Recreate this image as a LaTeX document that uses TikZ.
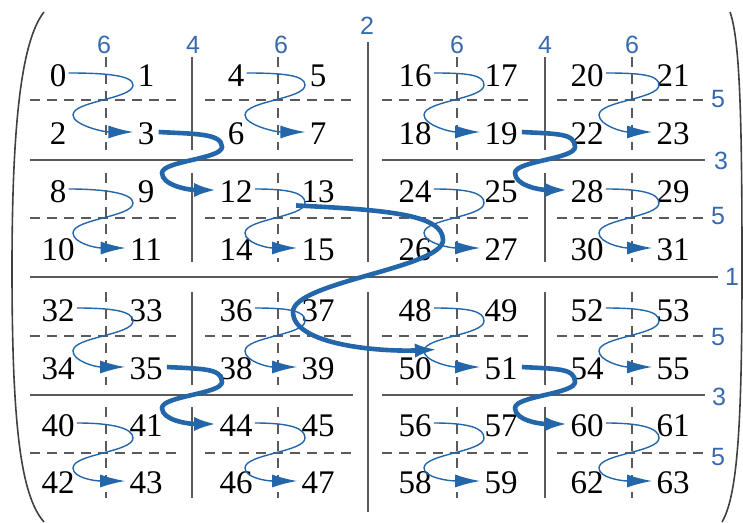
\documentclass[tikz,border=0pt]{standalone}
\usepackage{fontspec}
\setmainfont{Liberation Serif}
\newfontfamily\labfont{Liberation Sans}
\usetikzlibrary{arrows.meta,calc}
\definecolor{curveblue}{RGB}{35,102,170}
\definecolor{labblue}{RGB}{55,105,175}
\definecolor{gridgray}{RGB}{90,90,90}
\begin{document}
\begin{tikzpicture}[x=0.5pt,y=-0.5pt,
  num/.style={font=\fontsize{16.5}{19}\selectfont, inner sep=1pt},
  lab/.style={font=\labfont\fontsize{12.5}{14}\selectfont, text=labblue, inner sep=0pt},
  gridline/.style={draw=gridgray, line width=0.9pt},
  bigline/.style={draw=gridgray, line width=1.4pt},
  dashline/.style={draw=gridgray, line width=0.9pt, dash pattern=on 5pt off 3.5pt},
  thincurve/.style={draw=curveblue, line width=0.7pt, -{Latex[length=12.5pt,width=6.5pt]}},
  thickcurve/.style={draw=curveblue, line width=2.3pt, -{Latex[length=11.5pt,width=7pt]}},
  bracket/.style={draw=black!75, line width=0.8pt}]
\useasboundingbox (0,0) rectangle (743,523);

% brackets
\draw[bracket] (44,12) .. controls (22,40) and (12,120) .. (12,268) .. controls (12,420) and (20,495) .. (44,522);
\draw[bracket] (730,12) .. controls (740,40) and (742,120) .. (742,268) .. controls (742,420) and (738,495) .. (722,522);

% level 1 and 2
\draw[bigline] (30,277) -- (718,277);
\draw[bigline] (368,42) -- (368,262);
\draw[bigline] (368,292) -- (368,512);
% level 3
\foreach \y in {160,395}{
  \draw[gridline] (30,\y) -- (353,\y);
  \draw[gridline] (382,\y) -- (705,\y);
}
% level 4
\foreach \x in {192,545}{
  \foreach \ya/\yb in {57/150,173/262,292/385,407/498}{
    \draw[gridline] (\x,\ya) -- (\x,\yb);
  }
}
% level 5
\foreach \y in {100,218,336,453}{
  \foreach \xa/\xb in {30/178,205/353,382/530,557/707}{
    \draw[dashline] (\xa,\y) -- (\xb,\y);
  }
}
% level 6
\foreach \x in {106,278,457,632}{
  \foreach \ya/\yb in {57/150,173/262,292/385,407/498}{
    \draw[dashline] (\x,\ya) -- (\x,\yb);
  }
}

% labels
\node[lab] (t1) at (104,45) {6};
\node[lab] (t2) at (193,45) {4};
\node[lab] (t3) at (281,45) {6};
\node[lab] (t4) at (367,26) {2};
\node[lab] (t5) at (457,45) {6};
\node[lab] (t6) at (545,45) {4};
\node[lab] (t7) at (632,45) {6};
\node[lab] (r1) at (718,99) {5};
\node[lab] (r2) at (721,161) {3};
\node[lab] (r3) at (718,216) {5};
\node[lab] (r4) at (732,277) {1};
\node[lab] (r5) at (718,337) {5};
\node[lab] (r6) at (719,397) {3};
\node[lab] (r7) at (718,457) {5};

% numbers
\foreach \r/\y in {0/76,1/134,2/192,3/250,4/311,5/369,6/426,7/483}{
  \foreach \c/\x in {0/58,1/146,2/236,3/318,4/415,5/501,6/587,7/673}{
    \pgfmathtruncatemacro{\nn}{32*floor(\r/4)+16*floor(\c/4)+8*mod(floor(\r/2),2)+4*mod(floor(\c/2),2)+2*mod(\r,2)+mod(\c,2)}
    \node[num] (n\nn) at (\x,\y) {\nn};
  }
}

% thin S curves inside each 2x2 block
\foreach \a/\vx/\hy in {0/106/100, 4/278/100, 16/457/100, 20/632/100,
                        8/106/218, 12/278/218, 24/457/218, 28/632/218,
                        32/106/336, 36/278/336, 48/457/336, 52/632/336,
                        40/106/453, 44/278/453, 56/457/453, 60/632/453}{
  \pgfmathtruncatemacro{\dd}{\a+3}
  \draw[thincurve] ($(n\a.east)+(0,-3)$) .. controls +(35,0) and +(0,-10) .. (\vx+27,\hy-15)
     .. controls +(0,14) and +(0,-14) .. (\vx-33,\hy+15)
     .. controls +(0,10) and +(-30,0) .. ($(n\dd.west)+(-2,-2)$);
}

% thick S curves between blocks
\foreach \a/\b/\vx/\hy in {3/12/192/160, 19/28/545/160, 35/44/192/395, 51/60/545/395}{
  \draw[thickcurve] ($(n\a.east)+(2,-2)$) .. controls +(35,2) and +(0,-14) .. (\vx+30,\hy-13)
     .. controls +(0,12) and +(0,-12) .. (\vx-30,\hy+13)
     .. controls +(0,12) and +(-30,0) .. ($(n\b.west)+(0,-2)$);
}

% big curve
\draw[thickcurve] ($(n13.south west)+(-3,0)$) .. controls (390,210) and (443,215) .. (443,240)
   .. controls (443,268) and (293,282) .. (293,312)
   .. controls (293,345) and (380,352) .. ($(n50.north east)+(4,-6)$);
\end{tikzpicture}
\end{document}
